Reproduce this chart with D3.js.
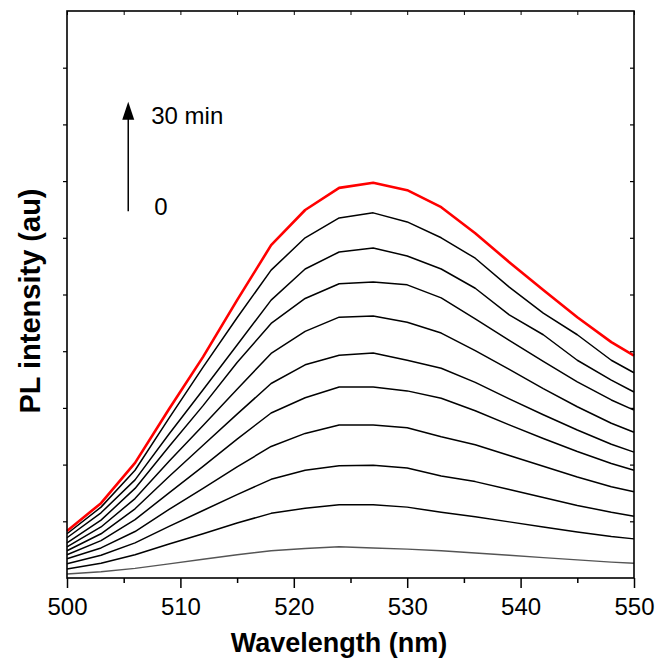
<!DOCTYPE html>
<html>
<head>
<meta charset="utf-8">
<script src="https://cdn.jsdelivr.net/npm/d3@7/dist/d3.min.js"></script>
<style>
  html, body { margin: 0; padding: 0; background: #fff; }
  svg { display: block; font-family: "Liberation Sans", Arial, sans-serif; }
</style>
</head>
<body>
<svg id="chart" width="657" height="661"></svg>
<script>
// Emission wavelengths (nm), one sample every 3 nm
const wavelength = [500, 503, 506, 509, 512, 515, 518, 521, 524, 527, 530, 533, 536, 539, 542, 545, 548, 550];

// PL intensity (arbitrary units) recorded every 3 minutes, 0 to 30 min
const pl0  = [0.7, 1.1, 1.7, 2.5, 3.3, 4.1, 4.8, 5.2, 5.5, 5.3, 5.1, 4.8, 4.4, 4.0, 3.6, 3.2, 2.8, 2.6];
const pl3  = [1.6, 2.6, 4.1, 6.0, 7.8, 9.7, 11.4, 12.3, 12.9, 12.9, 12.5, 11.6, 10.8, 9.9, 9.0, 8.1, 7.3, 6.9];
const pl6  = [2.5, 4.0, 6.2, 9.1, 11.9, 14.7, 17.4, 19.0, 19.8, 19.9, 19.4, 18.0, 17.0, 15.6, 14.2, 12.8, 11.6, 10.9];
const pl9  = [3.4, 5.3, 8.2, 12.1, 15.8, 19.6, 23.2, 25.5, 27.0, 27.0, 26.5, 24.9, 23.5, 21.6, 19.7, 17.8, 16.1, 15.2];
const pl12 = [4.1, 6.6, 10.3, 15.0, 19.7, 24.5, 29.1, 31.8, 33.7, 33.7, 33.0, 31.7, 29.5, 27.0, 24.6, 22.3, 20.2, 19.0];
const pl15 = [4.8, 7.8, 12.2, 17.9, 23.4, 28.9, 34.3, 37.6, 39.3, 39.7, 38.4, 37.0, 34.5, 31.6, 28.8, 26.1, 23.6, 22.2];
const pl18 = [5.5, 9.0, 14.0, 20.6, 26.9, 33.3, 39.6, 43.5, 46.0, 46.2, 45.1, 43.2, 40.1, 36.8, 33.4, 30.2, 27.3, 25.7];
const pl21 = [6.2, 10.2, 15.8, 23.2, 30.4, 38.0, 44.9, 49.3, 51.9, 52.2, 51.7, 49.4, 45.7, 41.9, 38.2, 34.6, 31.4, 29.6];
const pl24 = [7.1, 11.5, 17.3, 25.4, 33.2, 41.1, 49.0, 54.5, 57.5, 58.2, 56.8, 54.5, 51.1, 46.4, 42.9, 38.4, 34.9, 32.8];
const pl27 = [7.8, 12.5, 19.0, 28.2, 37.2, 45.9, 54.3, 60.0, 63.5, 64.4, 62.8, 60.0, 56.4, 51.3, 46.7, 42.9, 38.4, 36.2];
const pl30 = [8.3, 13.2, 20.3, 29.8, 39.0, 49.0, 58.7, 64.9, 68.8, 69.7, 68.4, 65.4, 60.8, 55.7, 50.8, 46.0, 41.6, 39.2];

const series = [pl0, pl3, pl6, pl9, pl12, pl15, pl18, pl21, pl24, pl27, pl30];

// Axis ticks
const xMajorTicks = [500, 510, 520, 530, 540, 550];
const xMinorTicks = [505, 515, 525, 535, 545];
const yTicks = [10, 20, 30, 40, 50, 60, 70, 80, 90];

// Time annotation labels
const timeLabels = ["30 min", "0"];

const svg = d3.select("#chart");
const plotL = 67, plotR = 634, plotT = 11, plotB = 578;

const x = d3.scaleLinear().domain([500, 550]).range([plotL, plotR]);
const y = d3.scaleLinear().domain([0, 100]).range([plotB, plotT]);

const font = '"Liberation Sans", Arial, sans-serif';

// Curves: first (0 min) grey, last (30 min) red, the rest black
const line = d3.line()
  .x((d, i) => x(wavelength[i]))
  .y(d => y(d));

const plot = svg.append("g");
series.forEach((s, k) => {
  const first = k === 0, last = k === series.length - 1;
  plot.append("path")
    .datum(s)
    .attr("d", line)
    .attr("fill", "none")
    .attr("stroke", last ? "#ff0000" : first ? "#555555" : "#000000")
    .attr("stroke-width", last ? 2.6 : first ? 1.4 : 1.5)
    .attr("stroke-linejoin", "round");
});

// Bottom axis: labelled major ticks and shorter minor ticks
const gBottom = svg.append("g").attr("transform", `translate(0,${plotB})`);
gBottom.call(d3.axisBottom(x).tickValues(xMajorTicks).tickSize(10).tickPadding(10).tickFormat(d3.format("d")));
gBottom.call(g => g.select(".domain").remove());
gBottom.selectAll("text").attr("font-size", 24).attr("font-family", font).attr("fill", "#000");
gBottom.selectAll(".tick line").attr("stroke-width", 1.5);

const gBottomMinor = svg.append("g").attr("transform", `translate(0,${plotB})`);
gBottomMinor.call(d3.axisBottom(x).tickValues(xMinorTicks).tickSize(5).tickFormat(""));
gBottomMinor.call(g => g.select(".domain").remove());
gBottomMinor.selectAll(".tick line").attr("stroke-width", 1.5);

// Top axis: short inward ticks
const gTop = svg.append("g").attr("transform", `translate(0,${plotT})`);
gTop.call(d3.axisTop(x).tickValues(xMajorTicks.concat(xMinorTicks)).tickSize(-4).tickFormat(""));
gTop.call(g => g.select(".domain").remove());

// Left axis: unlabelled outward ticks
const gLeft = svg.append("g").attr("transform", `translate(${plotL},0)`);
gLeft.call(d3.axisLeft(y).tickValues(yTicks).tickSize(4).tickFormat(""));
gLeft.call(g => g.select(".domain").remove());
gLeft.selectAll(".tick line").attr("stroke-width", 1.2);

// Right axis: inward ticks
const gRight = svg.append("g").attr("transform", `translate(${plotR},0)`);
gRight.call(d3.axisRight(y).tickValues(yTicks).tickSize(-4).tickFormat(""));
gRight.call(g => g.select(".domain").remove());
gRight.selectAll(".tick line").attr("stroke-width", 1.2);

// Frame
svg.append("rect")
  .attr("x", plotL).attr("y", plotT)
  .attr("width", plotR - plotL).attr("height", plotB - plotT)
  .attr("fill", "none").attr("stroke", "#000").attr("stroke-width", 1.6);

// Axis titles
svg.append("text")
  .attr("x", 339).attr("y", 652)
  .attr("text-anchor", "middle")
  .attr("font-family", font).attr("font-weight", "bold").attr("font-size", 27)
  .text("Wavelength (nm)");

svg.append("text")
  .attr("transform", `translate(40,301) rotate(-90)`)
  .attr("text-anchor", "middle")
  .attr("font-family", font).attr("font-weight", "bold").attr("font-size", 29)
  .text("PL intensity (au)");

// Time arrow
const arrowX = x(505.4);
const arrowTail = y(64.7), arrowTip = y(84.0);
svg.append("line")
  .attr("x1", arrowX).attr("x2", arrowX)
  .attr("y1", arrowTail).attr("y2", arrowTip + 16)
  .attr("stroke", "#000").attr("stroke-width", 1.5);
svg.append("path")
  .attr("d", `M${arrowX},${arrowTip} L${arrowX - 6},${arrowTip + 18} L${arrowX + 6},${arrowTip + 18} Z`)
  .attr("fill", "#000");

svg.append("text")
  .attr("x", arrowX + 23).attr("y", arrowTip + 22)
  .attr("font-family", font).attr("font-size", 24)
  .text(timeLabels[0]);
svg.append("text")
  .attr("x", arrowX + 26).attr("y", arrowTail + 4)
  .attr("font-family", font).attr("font-size", 24)
  .text(timeLabels[1]);
</script>
</body>
</html>
